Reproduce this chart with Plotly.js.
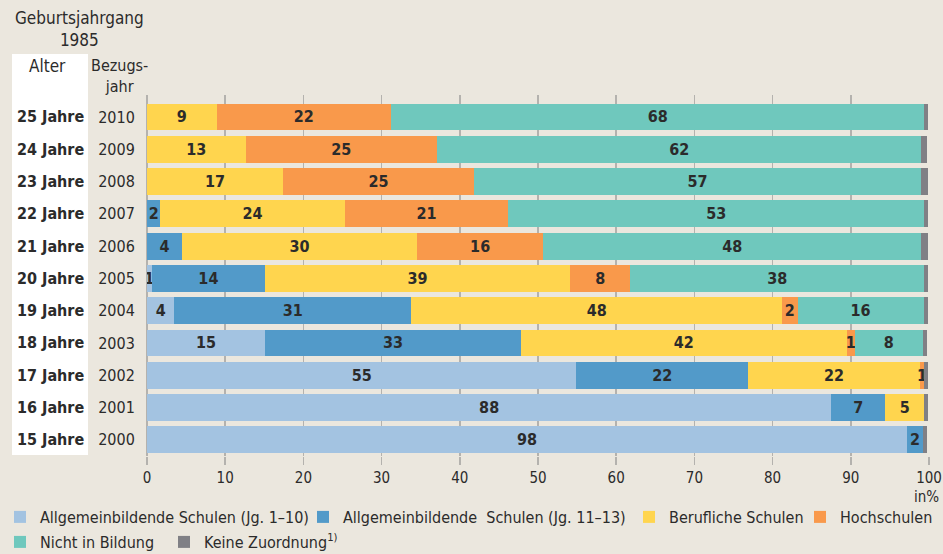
<!DOCTYPE html>
<html>
<head>
<meta charset="utf-8">
<script src="https://cdn.plot.ly/plotly-3.0.1.min.js"></script>
<style>html,body{margin:0;padding:0;background:#ebe7de;}#chart{width:943px;height:554px;}</style>
</head>
<body>
<div id="chart"></div>
<script>
// Categories (bottom to top)
const years = ['2000','2001','2002','2003','2004','2005','2006','2007','2008','2009','2010'];
const ages  = ['15 Jahre','16 Jahre','17 Jahre','18 Jahre','19 Jahre','20 Jahre','21 Jahre','22 Jahre','23 Jahre','24 Jahre','25 Jahre'];

// Series values in %
const allgemein110  = [97.2, 87.5, 54.9, 15.1, 3.5, 0.6, 0, 0, 0, 0, 0];
const allgemein1113 = [2.0, 6.9, 22.0, 32.7, 30.3, 14.5, 4.5, 1.7, 0, 0, 0];
const beruflich     = [0, 5.0, 21.9, 41.7, 47.4, 39.0, 30.0, 23.6, 17.4, 12.6, 8.9];
const hochschulen   = [0, 0, 0.6, 1.0, 2.0, 7.7, 16.2, 20.9, 24.4, 24.5, 22.3];
const nichtBildung  = [0, 0, 0, 8.7, 16.1, 37.6, 48.3, 53.2, 57.2, 61.9, 68.2];
const keineZuord    = [0.6, 0.5, 0.5, 0.6, 0.6, 0.5, 0.85, 0.5, 0.85, 0.7, 0.5];

// Printed (rounded) labels
const lblAllg110  = ['98','88','55','15','4','1','','','','',''];
const lblAllg1113 = ['2','7','22','33','31','14','4','2','','',''];
const lblBeruf    = ['','5','22','42','48','39','30','24','17','13','9'];
const lblHoch     = ['','','1','1','2','8','16','21','25','25','22'];
const lblNicht    = ['','','','8','16','38','48','53','57','62','68'];

const xTicks = [0,10,20,30,40,50,60,70,80,90,100];

const FONT = '"DejaVu Sans Condensed", "Liberation Sans Narrow", "Roboto Condensed", "Noto Sans", sans-serif';
const TXT = '#2b2b2b';

function seg(name, vals, labels, color, legend) {
  return {
    type: 'bar', orientation: 'h', name: name,
    x: vals, y: years,
    text: labels, textposition: labels ? 'inside' : 'none',
    insidetextanchor: 'middle', textangle: 0, constraintext: 'none',
    insidetextfont: {family: FONT, size: 16, color: TXT, weight: 'bold'},
    textfont: {family: FONT, size: 16, color: TXT, weight: 'bold'},
    marker: {color: color, line: {width: 0}},
    hoverinfo: 'x+y+name',
    legend: legend
  };
}

const data = [
  seg('Allgemeinbildende Schulen (Jg. 1–10)', allgemein110, lblAllg110, '#a3c3e1', 'legend'),
  seg('Allgemeinbildende&nbsp; Schulen (Jg. 11–13)', allgemein1113, lblAllg1113, '#529ac9', 'legend2'),
  seg('Berufliche Schulen', beruflich, lblBeruf, '#ffd54e', 'legend3'),
  seg('Hochschulen', hochschulen, lblHoch, '#f9994b', 'legend4'),
  seg('Nicht in Bildung', nichtBildung, lblNicht, '#6fc8bd', 'legend5'),
  seg('Keine Zuordnung<sup>1)</sup>', keineZuord, null, '#808085', 'legend6')
];

const L = 147, R = 929, T = 95, B = 456;
const W = 943, H = 554;
const YMAX = 10.68;
const px = v => (v - L) / (R - L);
const py = v => (B - v) / (B - T);

const annotations = [];
ages.forEach((a, i) => annotations.push({
  xref: 'paper', yref: 'paper', x: px(50), y: (i + 0.5) / (YMAX + 0.5), text: '<b>' + a + '</b>',
  showarrow: false, xanchor: 'center', yanchor: 'middle',
  font: {family: FONT, size: 16, color: TXT}
}));
annotations.push(
  {xref:'paper', yref:'paper', x: px(79), y: py(29), text: 'Geburtsjahrgang<br>1985', showarrow:false,
   xanchor:'center', yanchor:'middle', font:{family: FONT, size:17, color: TXT}},
  {xref:'paper', yref:'paper', x: px(47.5), y: py(66), text: 'Alter', showarrow:false,
   xanchor:'center', yanchor:'middle', font:{family: FONT, size:17, color: TXT}},
  {xref:'paper', yref:'paper', x: px(119), y: py(76.5), text: 'Bezugs-<br>jahr', showarrow:false,
   xanchor:'center', yanchor:'middle', font:{family: FONT, size:16, color: TXT}},
  {xref:'paper', yref:'paper', x: px(941), y: py(497), text: 'in%', showarrow:false,
   xanchor:'right', yanchor:'middle', font:{family: FONT, size:15, color: TXT}}
);

function leg(xText, yTop) {
  return {
    orientation: 'h', xref: 'container', yref: 'container',
    x: Math.max(0, (xText - 40) / W), y: 1 - yTop / H, xanchor: 'left', yanchor: 'top',
    bgcolor: 'rgba(0,0,0,0)', itemclick: false,
    font: {family: FONT, size: 16, color: TXT}, itemwidth: 30
  };
}

const layout = {
  width: W, height: H,
  margin: {l: L, r: W - R, t: T, b: H - B, pad: 0, autoexpand: false},
  paper_bgcolor: '#ebe7de', plot_bgcolor: '#ebe7de',
  barmode: 'stack', bargap: 0.17,
  font: {family: FONT, size: 15, color: TXT},
  xaxis: {
    range: [0, 100], tickvals: xTicks, ticktext: xTicks.map(String),
    showgrid: true, gridcolor: '#b4b2ae', gridwidth: 1.5,
    zeroline: true, zerolinecolor: '#b4b2ae', zerolinewidth: 1.5,
    ticks: 'outside', ticklen: 8, tickwidth: 1.5, tickcolor: '#b4b2ae',
    showline: false, tickfont: {family: FONT, size: 15, color: TXT},
    fixedrange: true, automargin: false
  },
  yaxis: {
    type: 'category', categoryorder: 'array', categoryarray: years,
    range: [-0.5, YMAX], showgrid: false, zeroline: false, showline: false,
    ticks: 'outside', ticklen: 8, tickcolor: 'rgba(0,0,0,0)',
    tickfont: {family: FONT, size: 16, color: TXT}, fixedrange: true, automargin: false
  },
  showlegend: true,
  legend:  leg(34, 500),
  legend2: leg(343, 500),
  legend3: leg(669, 500),
  legend4: leg(840, 500),
  legend5: leg(34, 525),
  legend6: leg(204, 525),
  shapes: [{
    type: 'rect', xref: 'paper', yref: 'paper', layer: 'below',
    x0: px(12), x1: px(88), y0: py(455), y1: py(54),
    fillcolor: '#ffffff', line: {width: 0}
  }],
  annotations: annotations
};

Plotly.newPlot('chart', data, layout, {displayModeBar: false, staticPlot: true});
</script>
</body>
</html>
